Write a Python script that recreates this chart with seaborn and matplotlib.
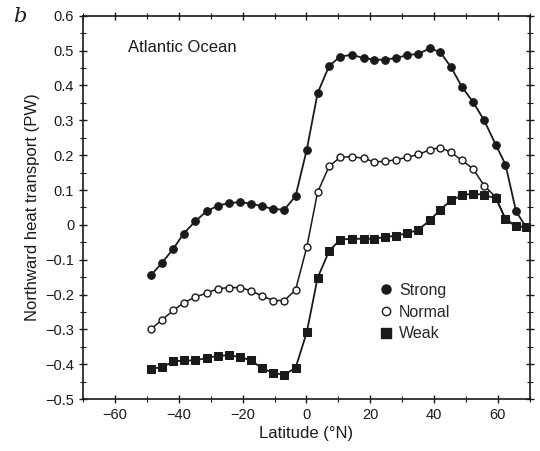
import matplotlib
matplotlib.use("Agg")
import matplotlib.pyplot as plt
import seaborn as sns
import pandas as pd
from matplotlib.ticker import MultipleLocator
from matplotlib.lines import Line2D

latitude = [-48.6, -45.2, -41.7, -38.5, -34.9, -31.3, -27.8, -24.2, -20.7, -17.4,
            -13.9, -10.4, -6.9, -3.4, 0.1, 3.5, 7.1, 10.6, 14.2, 17.9,
            21.1, 24.6, 28.1, 31.6, 35.1, 38.8, 42.0, 45.3, 48.8, 52.2,
            55.7, 59.4, 62.4, 65.7, 68.8]

strong = [-0.143, -0.108, -0.068, -0.025, 0.010, 0.039, 0.055, 0.063, 0.065, 0.061,
          0.054, 0.045, 0.044, 0.083, 0.216, 0.378, 0.456, 0.483, 0.488, 0.479,
          0.474, 0.474, 0.479, 0.487, 0.491, 0.507, 0.495, 0.453, 0.395, 0.353,
          0.300, 0.229, 0.173, 0.039, -0.006]

normal = [-0.298, -0.272, -0.245, -0.224, -0.207, -0.196, -0.183, -0.180, -0.180, -0.189,
          -0.204, -0.217, -0.217, -0.186, -0.064, 0.094, 0.168, 0.194, 0.196, 0.191,
          0.181, 0.182, 0.187, 0.194, 0.202, 0.216, 0.222, 0.208, 0.185, 0.161,
          0.113, 0.079, 0.016, -0.004, -0.006]

weak = [-0.413, -0.408, -0.392, -0.389, -0.389, -0.382, -0.376, -0.374, -0.379, -0.389,
        -0.411, -0.425, -0.430, -0.410, -0.308, -0.152, -0.075, -0.042, -0.040, -0.040,
        -0.040, -0.035, -0.031, -0.024, -0.014, 0.014, 0.044, 0.070, 0.085, 0.090,
        0.086, 0.076, 0.017, -0.004, -0.006]

series_names = ["Strong", "Normal", "Weak"]

sns.set_style("ticks")
plt.rcParams['font.family'] = ['Liberation Sans', 'DejaVu Sans']

fig = plt.figure(figsize=(5.4, 4.51), dpi=100)
ax = fig.add_axes([0.154, 0.115, 0.827, 0.85])

ink = "#1a1a1a"
df_s = pd.DataFrame({"lat": latitude, "val": strong})
df_n = pd.DataFrame({"lat": latitude, "val": normal})
df_w = pd.DataFrame({"lat": latitude, "val": weak})

sns.lineplot(data=df_s, x="lat", y="val", ax=ax, color=ink, lw=1.3,
             marker="o", markersize=5.5, markerfacecolor=ink, markeredgecolor=ink)
sns.lineplot(data=df_n, x="lat", y="val", ax=ax, color=ink, lw=1.1,
             marker="o", markersize=5, markerfacecolor="white", markeredgecolor=ink,
             markeredgewidth=1.0)
sns.lineplot(data=df_w, x="lat", y="val", ax=ax, color=ink, lw=1.3,
             marker="s", markersize=5.5, markerfacecolor=ink, markeredgecolor=ink)

ax.set_xlim(-70, 70)
ax.set_ylim(-0.5, 0.6)
ax.xaxis.set_minor_locator(MultipleLocator(10))
ax.yaxis.set_minor_locator(MultipleLocator(0.05))
ax.set_xticks([-60, -40, -20, 0, 20, 40, 60])
ax.set_yticks([-0.5, -0.4, -0.3, -0.2, -0.1, 0, 0.1, 0.2, 0.3, 0.4, 0.5, 0.6])
ax.set_yticklabels(["\u22120.5", "\u22120.4", "\u22120.3", "\u22120.2", "\u22120.1", "0",
                    "0.1", "0.2", "0.3", "0.4", "0.5", "0.6"])
ax.set_xticklabels(["\u221260", "\u221240", "\u221220", "0", "20", "40", "60"])

ax.tick_params(which="major", direction="inout", length=6, width=1.0, colors=ink,
               top=True, right=True, labelsize=10.5)
ax.tick_params(which="minor", direction="inout", length=4, width=0.8, colors=ink,
               top=True, right=True)
for sp in ax.spines.values():
    sp.set_linewidth(1.2)
    sp.set_color(ink)

ax.set_xlabel("Latitude (\u00b0N)", fontsize=12, color=ink, labelpad=3)
ax.set_ylabel("Northward heat transport (PW)", fontsize=12, color=ink, labelpad=4)

ax.text(0.1, 0.905, "Atlantic Ocean", transform=ax.transAxes, fontsize=12, color=ink)
fig.text(0.025, 0.952, "b", fontsize=15, style="italic", family="DejaVu Serif", color=ink)

handles = [
    Line2D([], [], ls="none", marker="o", markersize=6.5, mfc=ink, mec=ink),
    Line2D([], [], ls="none", marker="o", markersize=6, mfc="white", mec=ink),
    Line2D([], [], ls="none", marker="s", markersize=6.5, mfc=ink, mec=ink),
]
ax.legend(handles, series_names, loc="upper left", bbox_to_anchor=(0.668, 0.303),
          frameon=False, fontsize=11.5, handlelength=0.6, handletextpad=0.5,
          labelspacing=0.42, borderaxespad=0, borderpad=0)

fig.savefig("out.png", dpi=100)
